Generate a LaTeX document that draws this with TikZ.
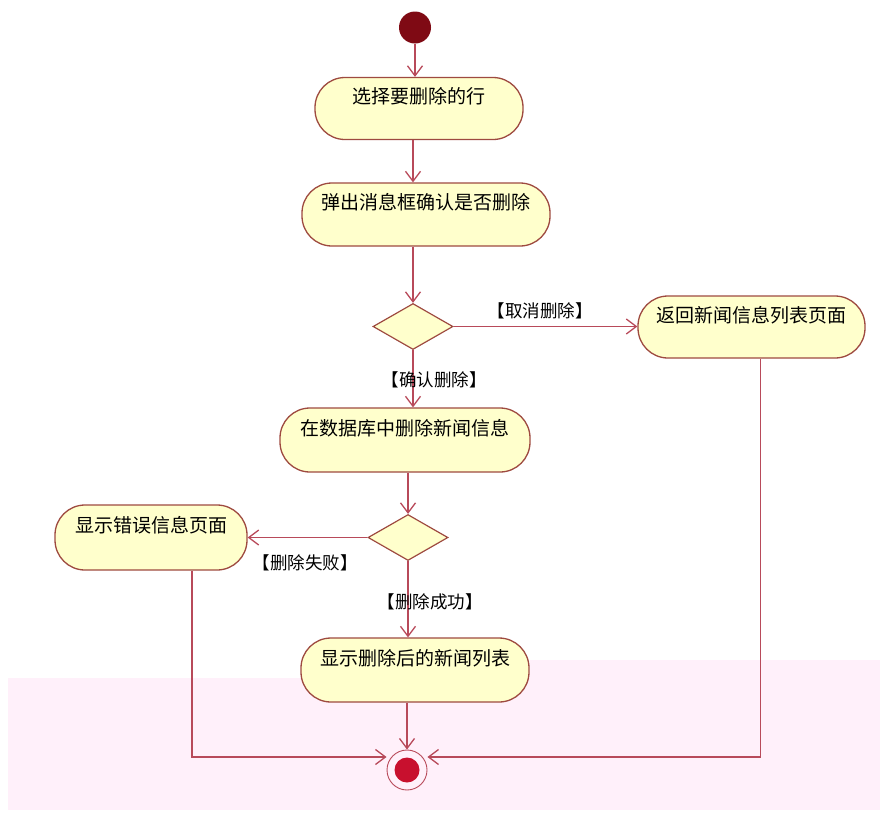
\documentclass[tikz,border=0pt]{standalone}
\usepackage{fontspec}
\setmainfont{Noto Sans CJK SC}
\usetikzlibrary{arrows.meta,shapes.geometric,calc}
\definecolor{fillY}{HTML}{FFFFCC}
\definecolor{bord}{HTML}{9E4A40}
\definecolor{lineC}{HTML}{B84A5A}
\definecolor{startC}{HTML}{7F0A14}
\definecolor{endC}{HTML}{C8102E}
\definecolor{pinkbg}{HTML}{FFF0FA}
\begin{document}
\begin{tikzpicture}[x=1pt,y=-1pt,
  act/.style={draw=bord, fill=fillY, line width=1.3pt, rounded corners=30pt,
    inner sep=0pt, text height=16pt, text depth=26pt,
    font=\fontsize{19}{22}\selectfont},
  dec/.style={diamond, draw=bord, fill=fillY, line width=1.2pt, inner sep=0pt,
    minimum width=80pt, minimum height=46pt},
  conn/.style={draw=lineC, line width=1.3pt, -{Straight Barb[length=10pt,width=15pt]}},
  lab/.style={font=\fontsize{17.5}{20}\selectfont, inner sep=1pt}
]
\useasboundingbox (0,0) rectangle (880,825);
\fill[pinkbg] (8,678) rectangle (880,810);
\fill[pinkbg] (530,660) rectangle (880,678);

\node[circle, fill=startC, minimum size=32pt, inner sep=0pt] (start) at (415,27.5) {};
\node[act, minimum width=208pt, minimum height=62pt] (A) at (419,108.5) {选择要删除的行};
\node[act, minimum width=248pt, minimum height=63pt] (B) at (426,214.5) {弹出消息框确认是否删除};
\node[dec] (d1) at (413,326.5) {};
\node[act, minimum width=227pt, minimum height=62pt] (C) at (751.5,327) {返回新闻信息列表页面};
\node[act, minimum width=250pt, minimum height=64pt] (D) at (405,440) {在数据库中删除新闻信息};
\node[dec] (d2) at (408,537.5) {};
\node[act, minimum width=192pt, minimum height=65pt] (E) at (151,537.5) {显示错误信息页面};
\node[act, minimum width=228pt, minimum height=64pt] (F) at (415,670) {显示删除后的新闻列表};
\node[circle, draw=lineC, line width=0.9pt, minimum size=40pt, inner sep=0pt] (end) at (407,770) {};
\node[circle, fill=endC, minimum size=25pt, inner sep=0pt] (endin) at (end) {};

\draw[conn] (start) -- (start |- A.north);
\draw[conn] (A.south -| d1) -- (B.north -| d1);
\draw[conn] (B.south -| d1) -- (d1.north);
\draw[conn] (d1.east) -- (C.west |- d1.east);
\draw[conn] (d1.south) -- (D.north -| d1.south);
\draw[conn] (D.south -| d2) -- (d2.north);
\draw[conn] (d2.west) -- (E.east |- d2.west);
\draw[conn] (d2.south) -- (F.north -| d2.south);
\draw[conn] (F.south -| end) -- (end.north);
\draw[conn] ([xshift=41pt]E.south) |- ([yshift=13pt]end.west);
\draw[conn] ([xshift=9pt]C.south) |- ([yshift=13pt]end.east);

\node[lab] (l1) at (540,311) {【取消删除】};
\node[lab] (l2) at (434,380) {【确认删除】};
\node[lab] (l3) at (305,563) {【删除失败】};
\node[lab] (l4) at (430,602) {【删除成功】};
\end{tikzpicture}
\end{document}
